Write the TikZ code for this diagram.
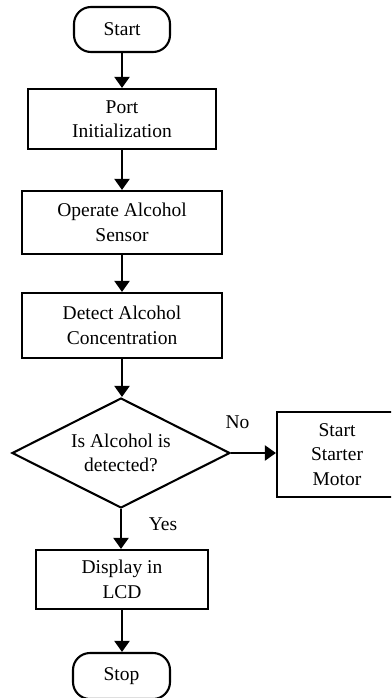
\documentclass[tikz,border=0pt]{standalone}
\usepackage{fontspec}
\setmainfont{Liberation Serif}
\usetikzlibrary{shapes.geometric,arrows.meta}
\begin{document}
\begin{tikzpicture}[x=1pt,y=-1pt,
  every node/.style={font=\fontsize{19.5}{24.5}\selectfont, align=center, inner sep=0pt},
  procbox/.style={draw, line width=2.1pt, rectangle},
  termbox/.style={draw, line width=2.1pt, rectangle, rounded corners=17pt},
  decbox/.style={draw, line width=2.1pt, diamond, minimum width=218pt, minimum height=110pt},
  flow/.style={line width=2.1pt, -{Triangle[width=15pt,length=11pt]}},
  lbl/.style={font=\fontsize{19.5}{24}\selectfont}]
\useasboundingbox (0,0) rectangle (391,698);
\clip (0,0) rectangle (391,698);
\node[termbox, minimum width=96pt, minimum height=45pt] (start) at (122,29.5) {Start};
\node[procbox, minimum width=188pt, minimum height=60pt] (port) at (122,119) {Port\\Initialization};
\node[procbox, minimum width=200pt, minimum height=63pt] (oper) at (122,222.5) {Operate Alcohol\\Sensor};
\node[procbox, minimum width=200pt, minimum height=65pt] (detect) at (122,325.5) {Detect Alcohol\\Concentration};
\node[decbox] (dec) at (121,453) {};
\node (dectext) at (121,453) {Is Alcohol is\\detected?};
\node[procbox, minimum width=126pt, minimum height=85pt] (motor) at (340,454.5) {};
\node (motortext) at (337,454.5) {Start\\Starter\\Motor};
\node[procbox, minimum width=172pt, minimum height=59pt] (disp) at (122,579.5) {Display in\\LCD};
\node[termbox, minimum width=97pt, minimum height=46pt] (stop) at (121.5,676) {Stop};
\node[lbl] (no) at (237.5,422) {No};
\node[lbl] (yes) at (163,524) {Yes};
\draw[flow] (start.south -| port.north) -- (port.north);
\draw[flow] (port) -- (oper);
\draw[flow] (oper) -- (detect);
\draw[flow] (detect.south) -- (detect.south |- dec.north);
\draw[flow] (dec.east) -- (dec.east -| motor.west);
\draw[flow] (dec.south) -- (dec.south |- disp.north);
\draw[flow] (disp.south) -- (disp.south |- stop.north);
\end{tikzpicture}
\end{document}
